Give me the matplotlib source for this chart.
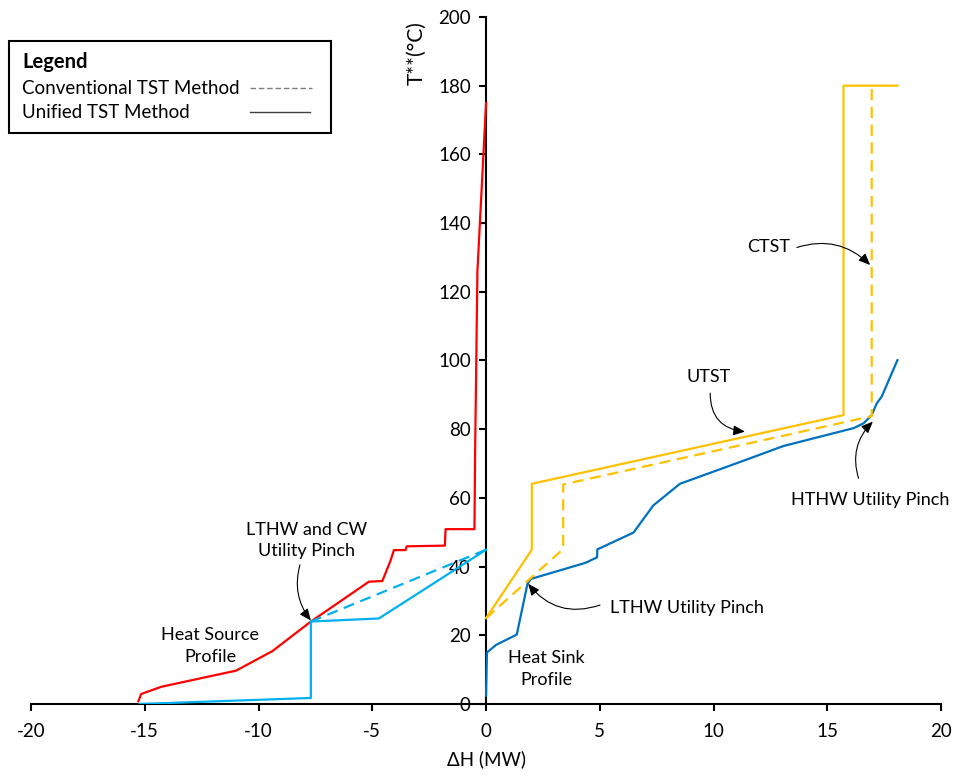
import matplotlib.pyplot as plt
from matplotlib.lines import Line2D
from matplotlib.patches import Rectangle

plt.rcParams['font.family'] = ['Lato', 'DejaVu Sans']

# heat source profile (red)
source_dh = [-15.28, -15.16, -14.28, -10.99, -9.39, -7.70, -5.15, -4.56, -4.20, -4.05,
             -3.54, -3.49, -1.81, -1.78, -0.51, -0.48, -0.38, 0.0]
source_t = [0.8, 2.9, 5.0, 9.7, 15.4, 24.0, 35.6, 35.8, 41.7, 44.8,
            44.8, 45.9, 46.1, 50.9, 50.9, 74.0, 126.0, 175.0]

# heat sink profile (blue)
sink_dh = [0.0, 0.04, 0.44, 1.35, 1.82, 1.97, 4.37, 4.88, 4.89, 6.48, 7.35, 8.52,
           11.14, 13.07, 16.15, 16.59, 16.95, 17.17, 17.39, 18.08]
sink_t = [2.4, 15.0, 17.2, 20.2, 35.0, 36.4, 41.1, 42.7, 45.0, 49.9, 57.8, 64.1,
          70.4, 75.1, 80.3, 81.7, 84.1, 87.5, 89.5, 100.1]

# cold utility / LTHW on the source side (light blue)
cw_utst_dh = [-15.23, -7.70, -7.70, -4.71, 0.0]
cw_utst_t = [0.0, 1.75, 24.0, 24.9, 44.9]
cw_ctst_dh = [-7.70, 0.0]
cw_ctst_t = [24.0, 44.9]

# hot utilities on the sink side (yellow)
hu_utst_dh = [0.0, 2.01, 2.01, 15.71, 15.71, 18.08]
hu_utst_t = [25.0, 44.9, 64.1, 84.1, 180.0, 180.0]
hu_ctst_dh = [0.0, 3.39, 3.39, 16.95, 16.95]
hu_ctst_t = [25.0, 45.1, 63.9, 83.8, 180.0]

x_ticks = [-20, -15, -10, -5, 0, 5, 10, 15, 20]
y_ticks = [0, 20, 40, 60, 80, 100, 120, 140, 160, 180, 200]

RED = '#FF0000'
CYAN = '#00B0F0'
BLUE = '#0070C0'
GOLD = '#FFC000'

W, H = 957, 776
fig = plt.figure(figsize=(W / 100, H / 100), dpi=100)
ax = fig.add_axes([0.0324, 0.0928, 0.951, 0.8853])


def px(x, y):
    # pixel position (from top-left) to figure fraction
    return x / W, 1 - y / H


lw = 1.6
dash = (5, 3)
ax.plot(source_dh, source_t, color=RED, lw=lw)
ax.plot(cw_utst_dh, cw_utst_t, color=CYAN, lw=lw)
ax.plot(cw_ctst_dh, cw_ctst_t, color=CYAN, lw=lw, ls=(0, dash))
ax.plot(sink_dh, sink_t, color=BLUE, lw=lw)
ax.plot(hu_utst_dh, hu_utst_t, color=GOLD, lw=lw)
ax.plot(hu_ctst_dh, hu_ctst_t, color=GOLD, lw=lw, ls=(0, dash))

ax.set_xlim(-20, 20)
ax.set_ylim(0, 200)
ax.set_xticks(x_ticks)
ax.set_yticks(y_ticks)

# axes cross at the origin
ax.spines['left'].set_position(('data', 0))
ax.spines['bottom'].set_position(('data', 0))
ax.spines['top'].set_visible(False)
ax.spines['right'].set_visible(False)
for s in ('left', 'bottom'):
    ax.spines[s].set_linewidth(1.5)
    ax.spines[s].set_zorder(1)
ax.tick_params(axis='both', direction='out', length=5, width=1.5, labelsize=13.5)
ax.tick_params(axis='x', pad=9)
ax.tick_params(axis='y', pad=6)
ax.set_xticklabels([str(t) for t in x_ticks])

ax.set_xlabel('ΔH (MW)', fontsize=13.5)
ax.xaxis.set_label_coords(0.5, -0.068)
ax.set_ylabel('T**(°C)', fontsize=15)
ax.yaxis.set_label_coords(0.435, 0.948)

# labels and pointer arrows
fs = 13
ax.text(-7.88, 47.7, 'LTHW and CW\nUtility Pinch', ha='center', va='center', fontsize=fs, linespacing=1.4)
ax.text(-12.13, 16.9, 'Heat Source\nProfile', ha='center', va='center', fontsize=fs, linespacing=1.4)
ax.text(2.67, 10.2, 'Heat Sink\nProfile', ha='center', va='center', fontsize=fs, linespacing=1.4)
ax.text(5.45, 27.9, 'LTHW Utility Pinch', ha='left', va='center', fontsize=fs)
ax.text(9.77, 95.3, 'UTST', ha='center', va='center', fontsize=fs)
ax.text(12.41, 133.1, 'CTST', ha='center', va='center', fontsize=fs)
ax.text(16.88, 59.4, 'HTHW Utility Pinch', ha='center', va='center', fontsize=fs)

arrow = dict(arrowstyle='-|>,head_length=0.7,head_width=0.3', color='black', lw=0.8,
             shrinkA=0, shrinkB=0)
pointers = [
    ((-8.18, 40.5), (-7.70, 24.3), 'arc3,rad=0.25'),
    ((5.01, 28.8), (1.85, 35.0), 'arc3,rad=-0.35'),
    ((9.85, 90.5), (11.38, 79.3), 'arc3,rad=0.45'),
    ((13.66, 132.9), (16.88, 127.8), 'arc3,rad=-0.3'),
    ((16.37, 65.7), (17.00, 82.2), 'arc3,rad=-0.3'),
]
for start, end, cs in pointers:
    ax.annotate('', xy=end, xytext=start,
                arrowprops=dict(arrow, connectionstyle=cs))

# legend box with line samples on the right
x0, y0 = px(8.5, 133)
x1, y1 = px(331, 41.5)
fig.add_artist(Rectangle((x0, y0), x1 - x0, y1 - y0, transform=fig.transFigure,
                         facecolor='white', edgecolor='black', lw=1.5, zorder=5))
fig.text(*px(22, 62), 'Legend', fontsize=14.5, fontweight='bold', va='center', zorder=6)
fig.text(*px(22, 88), 'Conventional TST Method', fontsize=13.5, va='center', zorder=6)
fig.text(*px(22, 113), 'Unified TST Method', fontsize=13.5, va='center', zorder=6)
xa, ya = px(250, 88)
xb, _ = px(312, 88)
fig.add_artist(Line2D([xa, xb], [ya, ya], transform=fig.transFigure, color='#7F7F7F',
                      lw=1.0, ls=(0, (4, 2)), zorder=6))
xa, ya = px(250, 112)
xb, _ = px(310, 112)
fig.add_artist(Line2D([xa, xb], [ya, ya], transform=fig.transFigure, color='#404040',
                      lw=1.0, zorder=6))

fig.savefig('out.png', dpi=100)
